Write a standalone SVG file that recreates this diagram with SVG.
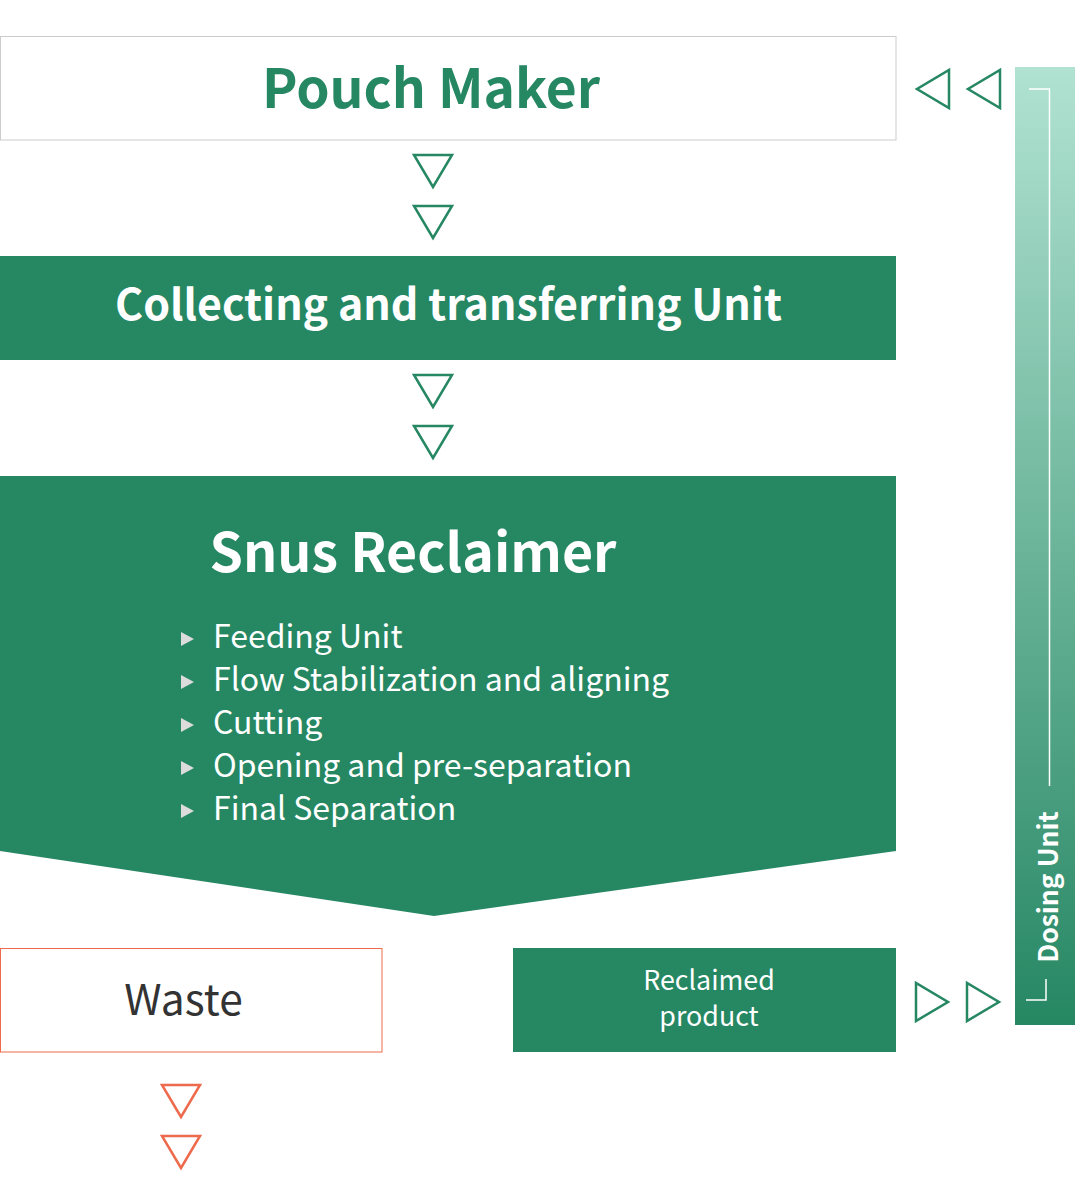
<svg xmlns="http://www.w3.org/2000/svg" width="1075" height="1181" viewBox="0 0 1075 1181">
<defs>
<linearGradient id="dg" x1="0" y1="0" x2="0" y2="1">
<stop offset="0" stop-color="#b1e2d2"/>
<stop offset="1" stop-color="#268763"/>
</linearGradient>
<style>
.t{font-family:"Noto Sans CJK JP","Source Sans Pro","Noto Sans",sans-serif}
.b{font-weight:700}
.g{fill:#268763}
.tri{fill:none;stroke:#268763;stroke-width:2.5;stroke-linejoin:miter}
.otri{fill:none;stroke:#ee6a4c;stroke-width:2.5}
.w{fill:#ffffff}
.bul{fill:#dcdcdc}
</style>
</defs>
<rect width="1075" height="1181" fill="#ffffff"/>

<g id="pouch-maker">
<rect x="0.5" y="36.5" width="895.5" height="103.5" fill="#ffffff" stroke="#cccccc" stroke-width="1"/>
<text class="t b g" x="431" y="108" font-size="53.4" text-anchor="middle">Pouch Maker</text>
</g>

<g id="collecting-unit">
<rect x="0" y="256" width="896" height="104" class="g"/>
<text class="t b w" x="448.5" y="320" font-size="42.9" text-anchor="middle">Collecting and transferring Unit</text>
</g>

<g id="snus-reclaimer">
<polygon points="0,476 896,476 896,851 434,916 0,851" class="g"/>
<text class="t b w" x="413" y="572" font-size="53.6" text-anchor="middle">Snus Reclaimer</text>
<polygon class="bul" points="181,632 194,639 181,646"/>
<polygon class="bul" points="181,675 194,682 181,689"/>
<polygon class="bul" points="181,718 194,725 181,732"/>
<polygon class="bul" points="181,761 194,768 181,775"/>
<polygon class="bul" points="181,804 194,811 181,818"/>
<text class="t w" x="213" y="648" font-size="32">Feeding Unit</text>
<text class="t w" x="213" y="691" font-size="32">Flow Stabilization and aligning</text>
<text class="t w" x="213" y="734" font-size="32">Cutting</text>
<text class="t w" x="213" y="777" font-size="32">Opening and pre-separation</text>
<text class="t w" x="213" y="820" font-size="32">Final Separation</text>
</g>

<g id="waste">
<rect x="0.5" y="948.5" width="381.5" height="103.5" fill="#ffffff" stroke="#ee6a4c" stroke-width="1"/>
<text class="t" x="183.5" y="1015" font-size="42.5" fill="#333333" text-anchor="middle">Waste</text>
</g>

<g id="reclaimed-product">
<rect x="513" y="948" width="383" height="104" class="g"/>
<text class="t w" x="709" y="990" font-size="26.8" text-anchor="middle">Reclaimed</text>
<text class="t w" x="709" y="1026" font-size="26.8" text-anchor="middle">product</text>
</g>

<g id="dosing-unit">
<rect x="1015" y="67" width="60" height="958" fill="url(#dg)"/>
<polyline points="1029,89 1049.5,89 1049.5,786" fill="none" stroke="#ffffff" stroke-width="1.5"/>
<polyline points="1046,979 1046,1000 1026,1000" fill="none" stroke="#ffffff" stroke-width="1.5"/>
<text class="t b w" x="0" y="0" font-size="26.5" text-anchor="middle" transform="translate(1057.5,887) rotate(-90)">Dosing Unit</text>
</g>

<g id="connectors">
<polygon class="tri" points="414,155 452,155 433,187"/>
<polygon class="tri" points="414,206 452,206 433,238"/>
<polygon class="tri" points="414,375 452,375 433,407"/>
<polygon class="tri" points="414,426 452,426 433,458"/>
<polygon class="otri" points="162,1085 200,1085 181,1117"/>
<polygon class="otri" points="162,1136 200,1136 181,1168"/>
<polygon class="tri" points="949,70 949,108 917,89"/>
<polygon class="tri" points="1000,70 1000,108 968,89"/>
<polygon class="tri" points="916,983 916,1021 948,1002"/>
<polygon class="tri" points="967,983 967,1021 999,1002"/>
</g>
</svg>
